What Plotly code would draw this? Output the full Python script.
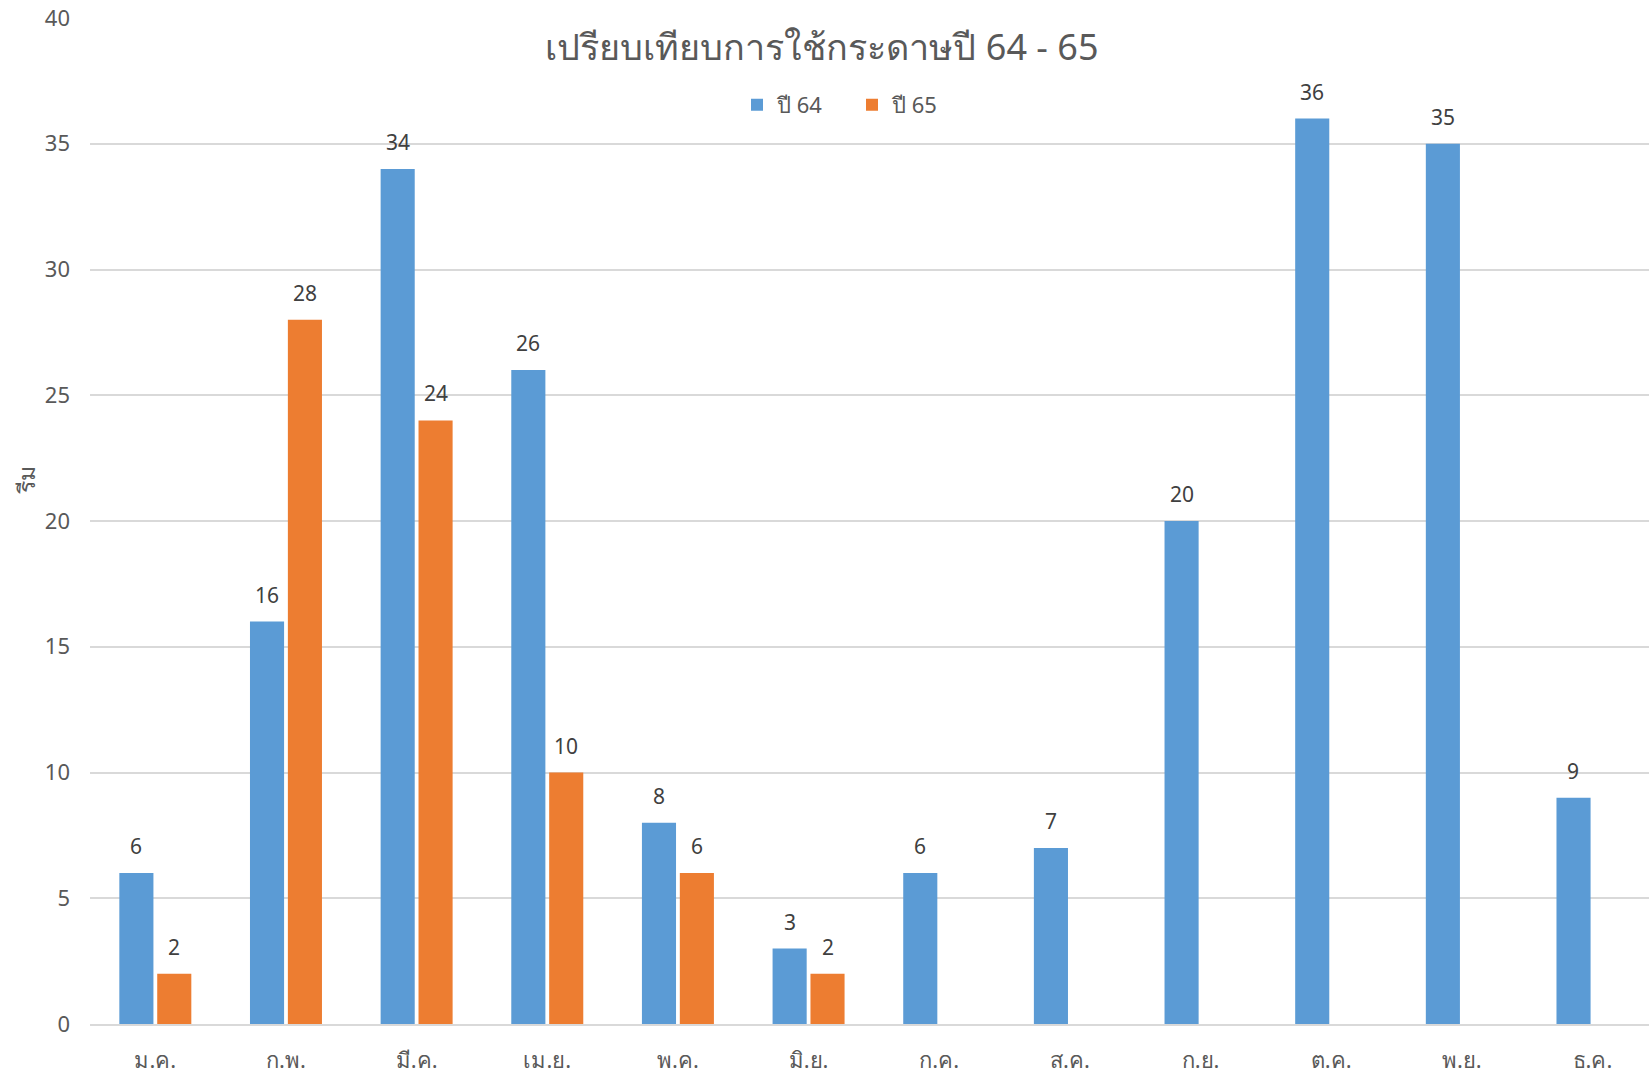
import plotly.graph_objects as go

months = ["ม.ค.", "ก.พ.", "มี.ค.", "เม.ย.", "พ.ค.", "มิ.ย.", "ก.ค.", "ส.ค.", "ก.ย.", "ต.ค.", "พ.ย.", "ธ.ค."]
y64 = [6, 16, 34, 26, 8, 3, 6, 7, 20, 36, 35, 9]
y65 = [2, 28, 24, 10, 6, 2, None, None, None, None, None, None]
series_names = ["ปี 64", "ปี 65"]
colors = ["#5B9BD5", "#ED7D31"]
y_title = "รีม"
chart_title = "เปรียบเทียบการใช้กระดาษปี 64 - 65"

FONT = "Noto Sans, DejaVu Sans, sans-serif"
W, H = 1649, 1074
ML, MT, MB = 90, 18, 48
PW, PH = W - ML, H - MT - MB
STEP = 130.65

fig = go.Figure()
for name, vals, col in zip(series_names, [y64, y65], colors):
    fig.add_trace(go.Bar(x=months, y=vals, name=name, marker_color=col,
                         marker_line_width=0))

# data labels
for vals, shift in [(y64, -19), (y65, 19)]:
    for m, v in zip(months, vals):
        if v is None:
            continue
        fig.add_annotation(x=m, y=v, text=str(v), showarrow=False,
                           xshift=shift, yshift=11, yanchor="bottom",
                           font=dict(family=FONT, size=21, color="#404040"))

# y axis title
fig.add_annotation(text=y_title, xref="paper", yref="paper",
                   x=(26 - ML) / PW, y=(H - MB - 481) / PH,
                   xanchor="center", yanchor="middle", textangle=-90,
                   showarrow=False,
                   font=dict(family=FONT, size=23, color="#595959"))

fig.update_layout(
    width=W, height=H,
    margin=dict(l=ML, r=0, t=MT, b=MB),
    paper_bgcolor="white", plot_bgcolor="white",
    barmode="group", bargap=0.42, bargroupgap=0.1,
    title=dict(text=chart_title,
               xref="container", x=822 / W, xanchor="center",
               yref="container", y=1 - 47 / H, yanchor="middle",
               font=dict(family=FONT, size=36, color="#595959")),
    legend=dict(orientation="h", x=(737 - ML) / PW, xanchor="left",
                y=(H - MB - 105) / PH, yanchor="middle",
                font=dict(family=FONT, size=22, color="#595959"),
                itemwidth=30, entrywidth=70, traceorder="normal",
                bgcolor="rgba(0,0,0,0)"),
    font=dict(family=FONT, color="#595959"),
)
fig.update_xaxes(range=[-0.5, 11.5 - (ML + 12 * STEP - W) / STEP], showgrid=False,
                 showline=True, linecolor="#D9D9D9", linewidth=2,
                 ticks="", tickfont=dict(family=FONT, size=22, color="#595959"),
                 ticklabelstandoff=16)
fig.update_yaxes(range=[0, 40], dtick=5, showgrid=True, gridcolor="#D9D9D9",
                 gridwidth=1.5, zeroline=False, showline=False, ticks="",
                 tickfont=dict(family=FONT, size=22, color="#595959"),
                 ticklabelstandoff=19)

fig.write_html("out.html", config={"displayModeBar": False},
               post_script="document.body.style.margin='0';document.body.style.overflow='hidden';")
